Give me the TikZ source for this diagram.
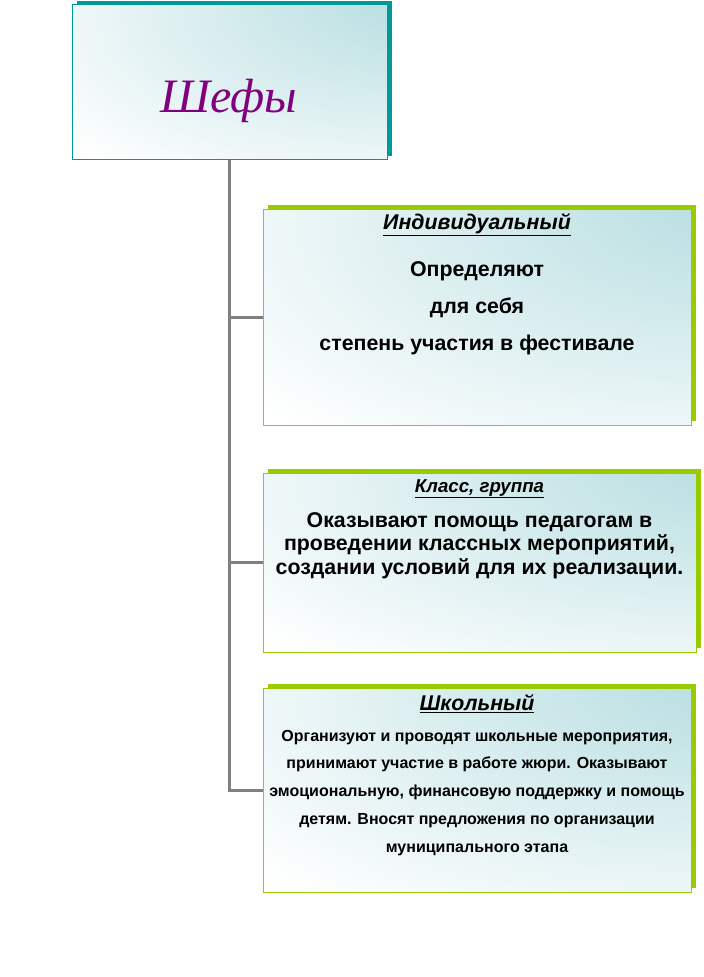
\documentclass[tikz,border=0pt]{standalone}
\usepackage{fontspec}
\setmainfont{Liberation Sans}
\newfontfamily\titlefont{Liberation Serif}
\usetikzlibrary{shadows}
\definecolor{chefteal}{RGB}{0,153,153}
\definecolor{boxgreen}{RGB}{153,204,0}
\definecolor{paleteal}{RGB}{186,223,226}
\definecolor{titlepurple}{RGB}{128,0,128}
\definecolor{linegray}{RGB}{128,128,128}
\pgfdeclareradialshading{cornerglow}{\pgfpoint{35bp}{32bp}}{color(0bp)=(paleteal); color(8bp)=(paleteal); color(60bp)=(white); color(140bp)=(white)}
\tikzset{
	panel/.style={shape=rectangle,draw=#1,line width=0.75pt,inner sep=0pt,outer sep=0pt,
		shade,shading=cornerglow,
		general shadow={fill=#1,shadow xshift=3.75pt,shadow yshift=3pt}},
	headtext/.style={anchor=base,font=\bfseries\itshape\fontsize{#1}{18}\selectfont},
	bodytext/.style n args={2}{anchor=base,align=center,font=\bfseries\fontsize{#1}{#2}\selectfont},
	link/.style={draw=linegray,line width=2.25pt}
}
\begin{document}
\begin{tikzpicture}[x=0.75pt,y=-0.75pt]
	\useasboundingbox (0,0) rectangle (703,977);
	\draw (229.5,82.5) node (chef) [panel=chefteal,minimum width=236.25pt,minimum height=116.25pt] {};
	\draw (229,113) node (cheftitle) [anchor=base,text=titlepurple,font=\titlefont\itshape\fontsize{36}{40}\selectfont] {Шефы};
	\draw (477,317) node (ind) [panel=boxgreen,minimum width=321pt,minimum height=162pt] {};
	\draw (479.5,562.5) node (cls) [panel=boxgreen,minimum width=324.75pt,minimum height=134.25pt] {};
	\draw (477,790) node (sch) [panel=boxgreen,minimum width=321pt,minimum height=153pt] {};
	\draw (ind.north) ++(0,20) node (indhead) [headtext=16] {\underline{Индивидуальный}};
	\draw (ind.north) ++(0,141) node (indbody) [bodytext={16}{27.4}] {Определяют\\для себя\\степень участия в фестивале};
	\draw (cls.north) ++(0,19) node (clshead) [headtext=14] {\underline{Класс, группа}};
	\draw (cls.north) ++(0,101) node (clsbody) [bodytext={16}{17.6}] {Оказывают помощь педагогам в\\проведении классных мероприятий,\\создании условий для их реализации.};
	\draw (sch.north) ++(0,22) node (schhead) [headtext=16] {\underline{Школьный}};
	\draw (sch.north) ++(0,164) node (schbody) [bodytext={12}{20.8}] {Организуют и проводят школьные мероприятия,\\принимают участие в работе жюри. Оказывают\\эмоциональную, финансовую поддержку и помощь\\детям. Вносят предложения по организации\\муниципального этапа};
	\draw[link] (chef.south) |- (ind.west);
	\draw[link] (chef.south) |- (cls.west);
	\draw[link] (chef.south) |- (sch.west);
\end{tikzpicture}
\end{document}
